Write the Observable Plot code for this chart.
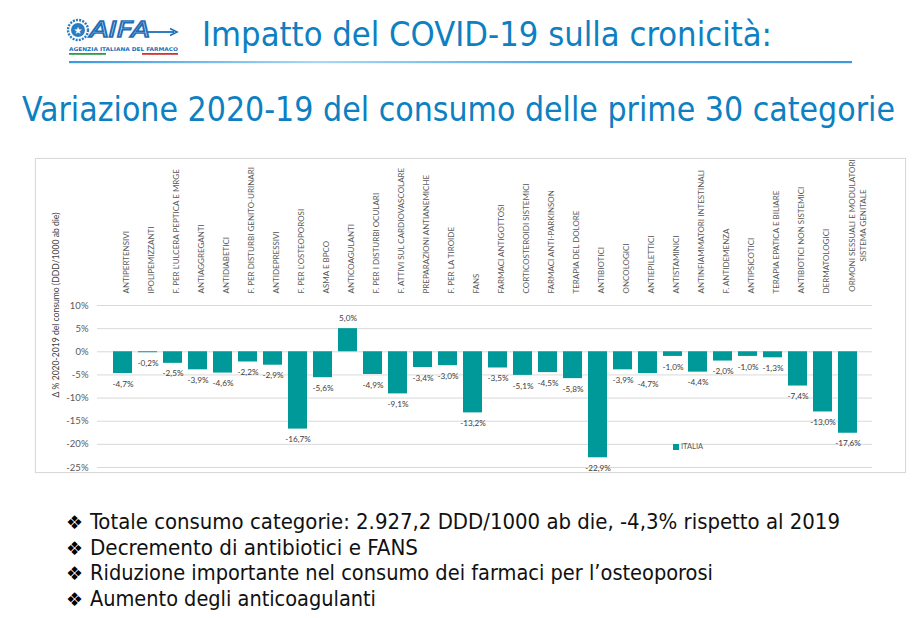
<!DOCTYPE html>
<html lang="it">
<head>
<meta charset="utf-8">
<script src="https://cdn.jsdelivr.net/npm/d3@7"></script>
<script src="https://cdn.jsdelivr.net/npm/@observablehq/plot@0.6"></script>
<style>
  html, body { margin: 0; padding: 0; background: #fff; }
  #slide { position: relative; width: 920px; height: 618px; overflow: hidden; background: #fff; }
  #deco { position: absolute; left: 0; top: 0; }
  #chartbox { position: absolute; left: 35px; top: 158px; width: 869px; height: 313px;
              border: 1px solid #d9d9d9; box-shadow: 0 0 2px rgba(0,0,0,0.06); background: #fff; }
  #chart { position: absolute; left: 0; top: 0; }
  #ylabel { position: absolute; left: 20px; top: 146px; transform: translate(-50%, -50%) rotate(-90deg);
            white-space: nowrap; font: 8.6px Lato, sans-serif; color: #404040; }
  #legend { position: absolute; left: 637px; top: 283px; font: 7.5px Lato, sans-serif; color: #595959;
            display: flex; align-items: center; gap: 2px; }
  #legend i { display: inline-block; width: 6px; height: 6px; background: #009999; }
</style>
</head>
<body>
<div id="slide">
  <svg id="deco" width="920" height="618"></svg>
  <div id="chartbox">
    <div id="chart"></div>
    <div id="ylabel"></div>
    <div id="legend"><i></i><span></span></div>
  </div>
</div>
<script>
// Categorie terapeutiche (prime 30 per consumo) e variazione % 2020 vs 2019
const categorie = [
  "ANTIPERTENSIVI",
  "IPOLIPEMIZZANTI",
  "F. PER L'ULCERA PEPTICA E MRGE",
  "ANTIAGGREGANTI",
  "ANTIDIABETICI",
  "F. PER DISTURBI GENITO-URINARI",
  "ANTIDEPRESSIVI",
  "F. PER L'OSTEOPOROSI",
  "ASMA E BPCO",
  "ANTICOAGULANTI",
  "F. PER I DISTURBI OCULARI",
  "F. ATTIVI SUL CARDIOVASCOLARE",
  "PREPARAZIONI ANTIANEMICHE",
  "F. PER LA TIROIDE",
  "FANS",
  "FARMACI ANTIGOTTOSI",
  "CORTICOSTEROIDI SISTEMICI",
  "FARMACI ANTI-PARKINSON",
  "TERAPIA DEL DOLORE",
  "ANTIBIOTICI",
  "ONCOLOGICI",
  "ANTIEPILETTICI",
  "ANTISTAMINICI",
  "ANTINFIAMMATORI INTESTINALI",
  "F. ANTIDEMENZA",
  "ANTIPSICOTICI",
  "TERAPIA EPATICA E BILIARE",
  "ANTIBIOTICI NON SISTEMICI",
  "DERMATOLOGICI",
  "ORMONI SESSUALI E MODULATORI\nSISTEMA GENITALE"
];
const variazione = [
  -4.7, -0.2, -2.5, -3.9, -4.6, -2.2, -2.9, -16.7, -5.6, 5.0,
  -4.9, -9.1, -3.4, -3.0, -13.2, -3.5, -5.1, -4.5, -5.8, -22.9,
  -3.9, -4.7, -1.0, -4.4, -2.0, -1.0, -1.3, -7.4, -13.0, -17.6
];
const yTicks = [10, 5, 0, -5, -10, -15, -20, -25];
const serie = "ITALIA";
const titoloY = "Δ % 2020-2019 del consumo (DDD/1000 ab die)";

const titolo = "Impatto del COVID-19 sulla cronicità:";
const sottotitolo = "Variazione 2020-19 del consumo delle prime 30 categorie";
const punti = [
  "Totale consumo categorie: 2.927,2 DDD/1000 ab die, -4,3% rispetto al 2019",
  "Decremento di antibiotici e FANS",
  "Riduzione importante nel consumo dei farmaci per l’osteoporosi",
  "Aumento degli anticoagulanti"
];
const larghezzePunti = [750, 328, 623, 286];

const dati = categorie.map((c, i) => ({categoria: c, valore: variazione[i]}));
const it = d3.formatLocale({decimal: ",", thousands: ".", grouping: [3], currency: ["€", ""], minus: "-"});
const pct = it.format(".1f");

// ---- intestazione, logo e punti elenco
const deco = d3.select("#deco");
const blu = "#0d80c2";
const defs = deco.append("defs");
const grad = defs.append("linearGradient").attr("id", "sep");
grad.append("stop").attr("offset", "0").attr("stop-color", "#3d98dc");
grad.append("stop").attr("offset", "0.32").attr("stop-color", "#a9d7f6");
grad.append("stop").attr("offset", "0.6").attr("stop-color", "#5aaee6");
grad.append("stop").attr("offset", "1").attr("stop-color", "#3d98dc");

const logo = deco.append("g");
logo.append("circle").attr("cx", 78).attr("cy", 30).attr("r", 10)
  .attr("fill", "none").attr("stroke", "#2a7cc0").attr("stroke-width", 2.4).attr("stroke-dasharray", "2 1.2");
logo.append("circle").attr("cx", 78).attr("cy", 30).attr("r", 7).attr("fill", "#2a7cc0");
logo.append("text").attr("x", 78).attr("y", 33.5).attr("text-anchor", "middle")
  .attr("font-family", "DejaVu Sans").attr("font-size", 10).attr("fill", "#fff").text("★");
logo.append("text").attr("x", 90).attr("y", 37).attr("font-family", "DejaVu Sans")
  .attr("font-style", "italic").attr("font-size", 22)
  .attr("fill", "none").attr("stroke", "#1b6fb8").attr("stroke-width", 1.6)
  .attr("textLength", 60).attr("lengthAdjust", "spacingAndGlyphs").text("AIFA");
logo.append("line").attr("x1", 148).attr("y1", 32).attr("x2", 174).attr("y2", 32)
  .attr("stroke", "#1b6fb8").attr("stroke-width", 1.8);
logo.append("path").attr("d", "M170,28.5 L177,32 L170,35.5").attr("fill", "none")
  .attr("stroke", "#1b6fb8").attr("stroke-width", 1.6);
logo.append("text").attr("x", 69).attr("y", 51).attr("font-family", "DejaVu Sans")
  .attr("font-weight", "bold").attr("font-size", 5.2).attr("fill", "#1b6fb8")
  .attr("textLength", 109).attr("lengthAdjust", "spacingAndGlyphs").text("AGENZIA ITALIANA DEL FARMACO");
logo.append("rect").attr("x", 69).attr("y", 53).attr("width", 37).attr("height", 1.8).attr("fill", "#2f9b45");
logo.append("rect").attr("x", 142).attr("y", 53).attr("width", 36).attr("height", 1.8).attr("fill", "#d2332f");

deco.append("text").attr("x", 202).attr("y", 46).attr("font-family", "DejaVu Sans Condensed, DejaVu Sans")
  .attr("font-size", 33).attr("fill", blu).attr("textLength", 570).attr("lengthAdjust", "spacingAndGlyphs")
  .text(titolo);
deco.append("rect").attr("x", 69).attr("y", 61).attr("width", 783).attr("height", 2.2).attr("fill", "url(#sep)");
deco.append("text").attr("x", 22).attr("y", 121).attr("font-family", "DejaVu Sans Condensed, DejaVu Sans")
  .attr("font-size", 34).attr("fill", blu).attr("textLength", 873).attr("lengthAdjust", "spacingAndGlyphs")
  .text(sottotitolo);

punti.forEach((p, i) => {
  const y = 529 + i * 25.7;
  deco.append("text").attr("x", 66).attr("y", y).attr("font-family", "DejaVu Sans")
    .attr("font-size", 19).attr("fill", "#000").text("❖");
  deco.append("text").attr("x", 90).attr("y", y).attr("font-family", "DejaVu Sans Condensed, DejaVu Sans")
    .attr("font-size", 20.5).attr("fill", "#111").attr("textLength", larghezzePunti[i])
    .attr("lengthAdjust", "spacingAndGlyphs").text(p);
});

// ---- grafico a barre
const negativi = dati.filter(d => d.valore < 0);
const positivi = dati.filter(d => d.valore >= 0);
const etichetta = d => pct(d.valore) + "%";
const ultima = categorie[categorie.length - 1];

const chart = Plot.plot({
  width: 869,
  height: 313,
  marginLeft: 61,
  marginRight: 33,
  marginTop: 146,
  marginBottom: 5,
  style: {fontFamily: "Lato, sans-serif", background: "transparent", overflow: "visible"},
  x: {domain: categorie, paddingInner: 0.26, paddingOuter: 0.13, axis: null},
  y: {domain: [-25, 10], axis: null},
  marks: [
    Plot.gridY(yTicks, {stroke: "#d9d9d9", strokeOpacity: 1, strokeWidth: 1}),
    Plot.axisY(yTicks, {tickSize: 0, tickPadding: 9, tickFormat: d => `${d}%`, fontSize: 9.5, color: "#595959", label: null}),
    Plot.barY(dati, {x: "categoria", y: "valore", fill: "#009999"}),
    Plot.text(negativi, {x: "categoria", y: "valore", text: etichetta, dy: 10.5, fontSize: 8.2, fill: "#404040"}),
    Plot.text(positivi, {x: "categoria", y: "valore", text: etichetta, dy: -10, fontSize: 8.2, fill: "#404040"}),
    Plot.text(categorie.filter(c => c !== ultima), {x: d => d, frameAnchor: "top", rotate: -90, textAnchor: "start",
      dy: -12, fontSize: 8, fill: "#595959"}),
    Plot.text([ultima], {x: d => d, frameAnchor: "top", rotate: -90, textAnchor: "middle",
      dy: -80, fontSize: 8, lineHeight: 1.3, fill: "#595959"})
  ]
});
document.getElementById("chart").appendChild(chart);
document.getElementById("ylabel").textContent = titoloY;
document.querySelector("#legend span").textContent = serie;
</script>
</body>
</html>
